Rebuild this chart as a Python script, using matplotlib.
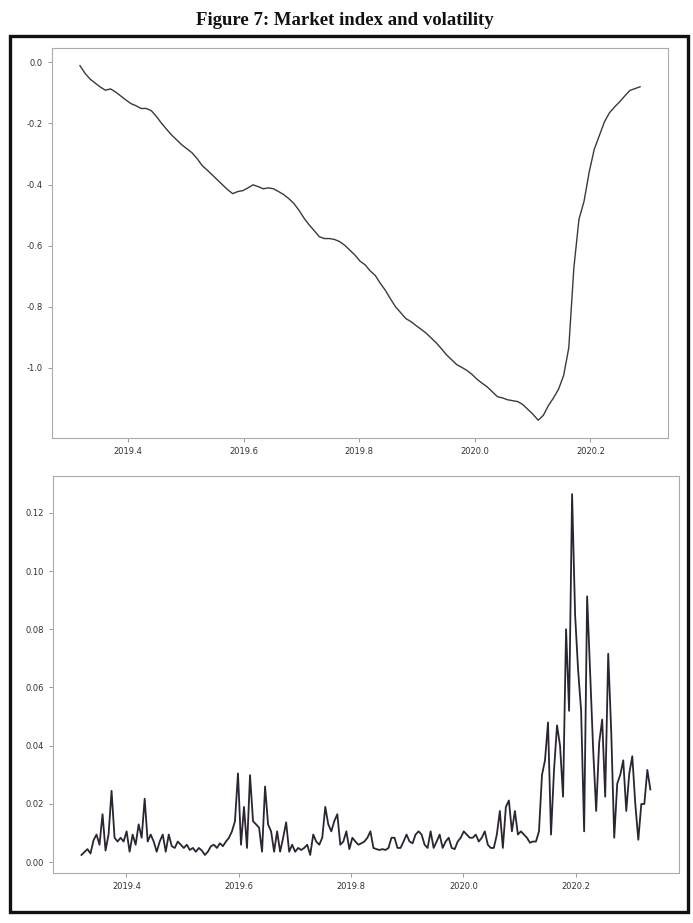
import matplotlib
matplotlib.use('Agg')
import matplotlib.pyplot as plt
import numpy as np
from matplotlib.patches import Rectangle
from matplotlib.ticker import FormatStrFormatter

# cumulative index level (log scale), decimal-year axis
index_start, index_end = 2019.317, 2020.286
index_vals = [
    -0.011, -0.036, -0.055, -0.068, -0.081, -0.091, -0.087, -0.097, -0.110, -0.123,
    -0.135, -0.142, -0.151, -0.151, -0.158, -0.177, -0.199, -0.219, -0.238, -0.254,
    -0.270, -0.283, -0.296, -0.315, -0.338, -0.353, -0.369, -0.385, -0.401, -0.417,
    -0.430, -0.423, -0.420, -0.411, -0.401, -0.407, -0.414, -0.411, -0.414, -0.423,
    -0.433, -0.446, -0.462, -0.484, -0.510, -0.532, -0.551, -0.571, -0.577, -0.577,
    -0.580, -0.587, -0.599, -0.615, -0.631, -0.651, -0.663, -0.683, -0.698, -0.724,
    -0.747, -0.775, -0.801, -0.820, -0.839, -0.849, -0.862, -0.874, -0.887, -0.903,
    -0.919, -0.938, -0.958, -0.974, -0.990, -0.999, -1.009, -1.022, -1.038, -1.051,
    -1.063, -1.079, -1.095, -1.099, -1.105, -1.108, -1.111, -1.121, -1.137, -1.153,
    -1.172, -1.156, -1.124, -1.099, -1.070, -1.025, -0.935, -0.673, -0.514, -0.455,
    -0.360, -0.285, -0.240, -0.195, -0.165, -0.146, -0.129, -0.110, -0.092, -0.086,
    -0.080,
]

# volatility
vol_start, vol_end = 2019.320, 2020.333
vol_vals = [
    0.0025, 0.0035, 0.0045, 0.0030, 0.0075, 0.0095, 0.0060, 0.0165, 0.0040, 0.0095,
    0.0245, 0.0084, 0.0071, 0.0084, 0.0071, 0.0106, 0.0036, 0.0095, 0.0060, 0.0130,
    0.0084, 0.0218, 0.0071, 0.0095, 0.0071, 0.0036, 0.0071, 0.0095, 0.0036, 0.0095,
    0.0055, 0.0049, 0.0071, 0.0060, 0.0049, 0.0060, 0.0042, 0.0049, 0.0036, 0.0049,
    0.0040, 0.0025, 0.0036, 0.0055, 0.0060, 0.0049, 0.0065, 0.0055, 0.0071, 0.0084,
    0.0106, 0.0141, 0.0305, 0.0060, 0.0190, 0.0049, 0.0299, 0.0141, 0.0130, 0.0119,
    0.0036, 0.0260, 0.0130, 0.0106, 0.0036, 0.0106, 0.0036, 0.0084, 0.0137, 0.0036,
    0.0060, 0.0036, 0.0049, 0.0042, 0.0049, 0.0060, 0.0025, 0.0095, 0.0071, 0.0060,
    0.0084, 0.0190, 0.0130, 0.0106, 0.0141, 0.0165, 0.0060, 0.0071, 0.0106, 0.0045,
    0.0084, 0.0071, 0.0060, 0.0065, 0.0071, 0.0084, 0.0106, 0.0049, 0.0045, 0.0042,
    0.0045, 0.0042, 0.0049, 0.0084, 0.0084, 0.0049, 0.0049, 0.0071, 0.0095, 0.0071,
    0.0065, 0.0095, 0.0106, 0.0095, 0.0060, 0.0049, 0.0106, 0.0049, 0.0071, 0.0095,
    0.0049, 0.0071, 0.0084, 0.0049, 0.0045, 0.0071, 0.0084, 0.0106, 0.0095, 0.0084,
    0.0084, 0.0095, 0.0071, 0.0084, 0.0106, 0.0060, 0.0049, 0.0049, 0.0095, 0.0176,
    0.0049, 0.0190, 0.0212, 0.0106, 0.0176, 0.0095, 0.0106, 0.0095, 0.0084, 0.0067,
    0.0071, 0.0071, 0.0106, 0.0300, 0.0350, 0.0480, 0.0095, 0.0317, 0.0470, 0.0400,
    0.0225, 0.0800, 0.0520, 0.1264, 0.0850, 0.0660, 0.0520, 0.0106, 0.0913, 0.0646,
    0.0387, 0.0176, 0.0410, 0.0490, 0.0225, 0.0716, 0.0450, 0.0084, 0.0270, 0.0300,
    0.0350, 0.0176, 0.0305, 0.0364, 0.0200, 0.0077, 0.0200, 0.0200, 0.0317, 0.0250,
]

year_ticks = [2019.4, 2019.6, 2019.8, 2020.0, 2020.2]
index_ticks = [0.0, -0.2, -0.4, -0.6, -0.8, -1.0]

t_index = np.linspace(index_start, index_end, len(index_vals))
t_vol = np.linspace(vol_start, vol_end, len(vol_vals))

fig = plt.figure(figsize=(6.93, 9.23), dpi=100)
fig.patch.set_facecolor('white')

ax1 = fig.add_axes([0.075, 0.5255, 0.889, 0.4225])
ax2 = fig.add_axes([0.0765, 0.0542, 0.903, 0.430])

ax1.plot(t_index, index_vals, color='#3a3a3a', lw=1.0)
ax2.plot(t_vol, vol_vals, color='#2a2530', lw=1.3)

ax1.set_yticks(index_ticks)
ax1.yaxis.set_major_formatter(FormatStrFormatter('%.1f'))

for ax in (ax1, ax2):
    ax.set_xticks(year_ticks)
    ax.xaxis.set_major_formatter(FormatStrFormatter('%.1f'))
    ax.tick_params(labelsize=6, colors='#999999', labelcolor='#333333', length=3, width=0.7)
    for s in ax.spines.values():
        s.set_color('#aaaaaa')
        s.set_linewidth(0.8)

# box round the figure, caption on top
fig.add_artist(Rectangle((0.0144, 0.0119), 0.978, 0.949, transform=fig.transFigure,
                         fill=False, lw=2.4, ec='#111111'))
fig.text(0.498, 0.978, 'Figure 7: Market index and volatility', ha='center', va='center',
         family='Liberation Serif', weight='bold', fontsize=13.5, color='#111111')

plt.savefig('out.png', dpi=100)
